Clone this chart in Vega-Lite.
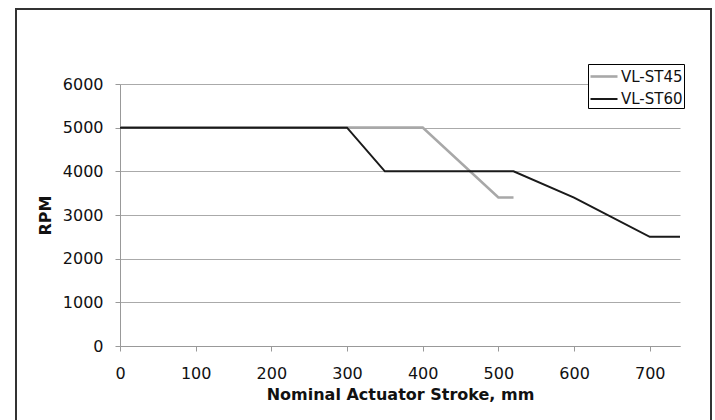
{
  "$schema": "https://vega.github.io/schema/vega-lite/v6.json",
  "width": 695,
  "height": 413,
  "autosize": {"type": "none"},
  "padding": {"left": 16, "top": 9, "right": 4, "bottom": -2},
  "background": "white",
  "config": {
    "font": "DejaVu Sans",
    "view": {"stroke": "#333333", "strokeWidth": 2},
    "axis": {
      "labelFontSize": 16,
      "labelColor": "#111111",
      "titleFontSize": 16,
      "titleFontWeight": "bold",
      "titleColor": "#111111",
      "domainColor": "#999999",
      "tickColor": "#999999",
      "tickSize": 5,
      "gridColor": "#aaaaaa",
      "gridWidth": 1,
      "labelFlush": false
    }
  },
  "data": {
    "values": [
      {"model": "VL-ST45", "stroke": 0, "rpm": 5000},
      {"model": "VL-ST45", "stroke": 300, "rpm": 5000},
      {"model": "VL-ST45", "stroke": 400, "rpm": 5000},
      {"model": "VL-ST45", "stroke": 500, "rpm": 3400},
      {"model": "VL-ST45", "stroke": 520, "rpm": 3400},
      {"model": "VL-ST60", "stroke": 0, "rpm": 5000},
      {"model": "VL-ST60", "stroke": 50, "rpm": 5000},
      {"model": "VL-ST60", "stroke": 100, "rpm": 5000},
      {"model": "VL-ST60", "stroke": 150, "rpm": 5000},
      {"model": "VL-ST60", "stroke": 200, "rpm": 5000},
      {"model": "VL-ST60", "stroke": 250, "rpm": 5000},
      {"model": "VL-ST60", "stroke": 300, "rpm": 5000},
      {"model": "VL-ST60", "stroke": 350, "rpm": 4000},
      {"model": "VL-ST60", "stroke": 520, "rpm": 4000},
      {"model": "VL-ST60", "stroke": 600, "rpm": 3400},
      {"model": "VL-ST60", "stroke": 700, "rpm": 2500},
      {"model": "VL-ST60", "stroke": 740, "rpm": 2500}
    ]
  },
  "mark": {"type": "line"},
  "encoding": {
    "x": {
      "field": "stroke",
      "type": "quantitative",
      "scale": {"domain": [0, 740], "range": [104, 664], "nice": false},
      "axis": {
        "title": "Nominal Actuator Stroke, mm",
        "values": [0, 100, 200, 300, 400, 500, 600, 700],
        "format": "d",
        "grid": false,
        "offset": -76,
        "labelPadding": 14,
        "titlePadding": 5
      }
    },
    "y": {
      "field": "rpm",
      "type": "quantitative",
      "scale": {"domain": [0, 6000], "range": [337, 75], "nice": false},
      "axis": {
        "title": "RPM",
        "values": [0, 1000, 2000, 3000, 4000, 5000, 6000],
        "format": "d",
        "grid": true,
        "offset": -104,
        "labelPadding": 12,
        "titlePadding": 9
      }
    },
    "color": {
      "field": "model",
      "type": "nominal",
      "scale": {"domain": ["VL-ST45", "VL-ST60"], "range": ["#a8a8a8", "#1a1a1a"]},
      "legend": {
        "title": null,
        "orient": "none",
        "legendX": 572,
        "legendY": 55,
        "strokeColor": "#000000",
        "fillColor": "#ffffff",
        "padding": 1,
        "symbolType": "M-1,0H1.7",
        "symbolSize": 400,
        "symbolStrokeWidth": 2.5,
        "labelFontSize": 15,
        "labelColor": "#111111",
        "labelOffset": 9,
        "rowPadding": 3
      }
    },
    "strokeWidth": {
      "field": "model",
      "type": "nominal",
      "scale": {"domain": ["VL-ST45", "VL-ST60"], "range": [2.6, 2]},
      "legend": null
    }
  }
}
